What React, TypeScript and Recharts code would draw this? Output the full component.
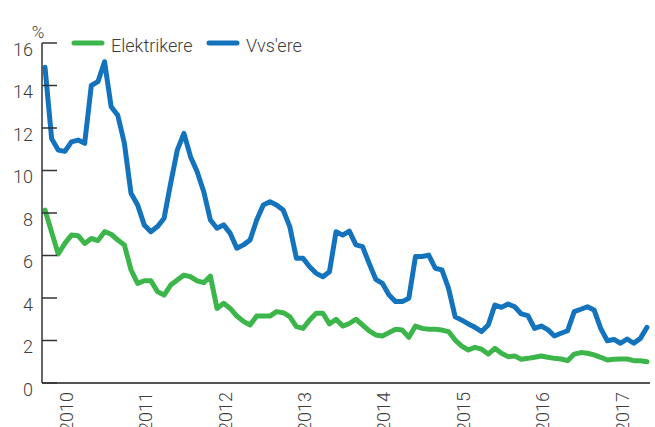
import React from "react";
import { LineChart, Line, XAxis, YAxis } from "recharts";

// monthly series, Oct 2009 – May 2017
const startYear = 2009;
const startMonth = 10;

const yearLabels = ["2010", "2011", "2012", "2013", "2014", "2015", "2016", "2017"];
const yTicks = [0, 2, 4, 6, 8, 10, 12, 14, 16];

const elektrikere = [
  8.14, 7.1, 6.07, 6.57, 6.96, 6.93, 6.57, 6.8, 6.7, 7.12, 7.0, 6.73, 6.49, 5.32, 4.69, 4.81,
  4.81, 4.3, 4.14, 4.61, 4.85, 5.08, 5.0, 4.81, 4.72, 5.03, 3.51, 3.75, 3.51, 3.15, 2.9, 2.73,
  3.15, 3.15, 3.15, 3.36, 3.31, 3.12, 2.65, 2.57, 2.96, 3.28, 3.28, 2.78, 3.0, 2.68, 2.8, 3.0,
  2.73, 2.45, 2.26, 2.21, 2.37, 2.53, 2.49, 2.15, 2.68, 2.57, 2.53, 2.53, 2.49, 2.42, 2.02, 1.74,
  1.55, 1.68, 1.59, 1.36, 1.63, 1.4, 1.24, 1.27, 1.12, 1.16, 1.21, 1.27, 1.21, 1.16, 1.13, 1.05,
  1.36, 1.43, 1.4, 1.32, 1.21, 1.08, 1.12, 1.13, 1.13, 1.05, 1.05, 1.0,
];

const vvsere = [
  14.86, 11.5, 10.96, 10.9, 11.35, 11.43, 11.28, 14.0, 14.18, 15.12, 13.0, 12.6, 11.28, 8.93, 8.38, 7.44,
  7.12, 7.36, 7.75, 9.4, 10.96, 11.75, 10.65, 9.94, 9.0, 7.67, 7.28, 7.44, 7.04, 6.34, 6.5, 6.73,
  7.67, 8.38, 8.53, 8.38, 8.14, 7.36, 5.87, 5.87, 5.47, 5.16, 5.0, 5.24, 7.12, 6.96, 7.15, 6.5,
  6.42, 5.63, 4.88, 4.69, 4.14, 3.83, 3.83, 3.99, 5.95, 5.95, 6.02, 5.4, 5.32, 4.45, 3.12, 2.96,
  2.78, 2.62, 2.42, 2.73, 3.67, 3.56, 3.72, 3.59, 3.25, 3.17, 2.57, 2.68, 2.51, 2.21, 2.34, 2.46,
  3.36, 3.47, 3.59, 3.44, 2.57, 1.99, 2.05, 1.87, 2.07, 1.87, 2.1, 2.62,
];

const series = [
  { key: "elektrikere", name: "Elektrikere", color: "#3cb54a" },
  { key: "vvsere", name: "Vvs'ere", color: "#1373bd" },
];

const months = elektrikere.map((_, i) => {
  const m = startMonth - 1 + i;
  return `${startYear + Math.floor(m / 12)}-${String((m % 12) + 1).padStart(2, "0")}`;
});

const data = months.map((month, i) => ({
  month,
  elektrikere: elektrikere[i],
  vvsere: vvsere[i],
}));

const januaryTicks = yearLabels.map((y) => `${y}-01`);

const FONT = "Roboto, 'Open Sans', sans-serif";
const TEXT = "#3d3d3d";

const YTick = (props: any) => {
  const { x, y, payload } = props;
  return (
    <g>
      <line x1={x + 9} x2={x + 24} y1={y} y2={y} stroke="#333" strokeWidth={1.5} />
      <text x={x} y={y} dy={12.5} textAnchor="end" fill={TEXT} fontSize={18} fontFamily={FONT} fontWeight={300}>
        {payload.value}
      </text>
    </g>
  );
};

const XTick = (props: any) => {
  const { x, y, payload } = props;
  return (
    <text
      x={x}
      y={y}
      dy={8}
      transform={`rotate(-90 ${x} ${y})`}
      textAnchor="end"
      fill={TEXT}
      fontSize={18}
      fontFamily={FONT}
      fontWeight={300}
    >
      {String(payload.value).slice(0, 4)}
    </text>
  );
};

const App = () => {
  return (
    <div style={{ position: "absolute", left: 0, top: 0, width: 655, height: 427, background: "#fff" }}>
      <LineChart width={655} height={427} data={data} margin={{ top: 43, right: 5, bottom: 0, left: 0 }}>
        <XAxis
          dataKey="month"
          ticks={januaryTicks}
          interval={0}
          height={44}
          padding={{ left: 3, right: 3 }}
          axisLine={{ stroke: "#555", strokeWidth: 2 }}
          tickLine={false}
          tickSize={0}
          tickMargin={9}
          tick={<XTick />}
        />
        <YAxis
          domain={[0, 16]}
          ticks={yTicks}
          interval={0}
          width={42}
          axisLine={{ stroke: "#333", strokeWidth: 1.5 }}
          tickLine={false}
          tickSize={0}
          tickMargin={9}
          tick={<YTick />}
        />
        {series.map((s) => (
          <Line
            key={s.key}
            type="linear"
            dataKey={s.key}
            name={s.name}
            stroke={s.color}
            strokeWidth={5}
            strokeLinejoin="round"
            strokeLinecap="round"
            dot={false}
            isAnimationActive={false}
          />
        ))}
      </LineChart>

      {/* unit label + legend */}
      <svg width={655} height={60} style={{ position: "absolute", left: 0, top: 0, pointerEvents: "none" }}>
        <text x={38} y={38} textAnchor="middle" fill={TEXT} fontSize={17} fontFamily={FONT} fontWeight={300}>
          %
        </text>
        {series.map((s, i) => {
          const x0 = i === 0 ? 74 : 209;
          return (
            <g key={s.key}>
              <line x1={x0} x2={x0 + 28} y1={43} y2={43} stroke={s.color} strokeWidth={5} strokeLinecap="round" />
              <text x={x0 + 37} y={52} fill={TEXT} fontSize={18} fontFamily={FONT} fontWeight={300}>
                {s.name}
              </text>
            </g>
          );
        })}
      </svg>
    </div>
  );
};

export default App;
